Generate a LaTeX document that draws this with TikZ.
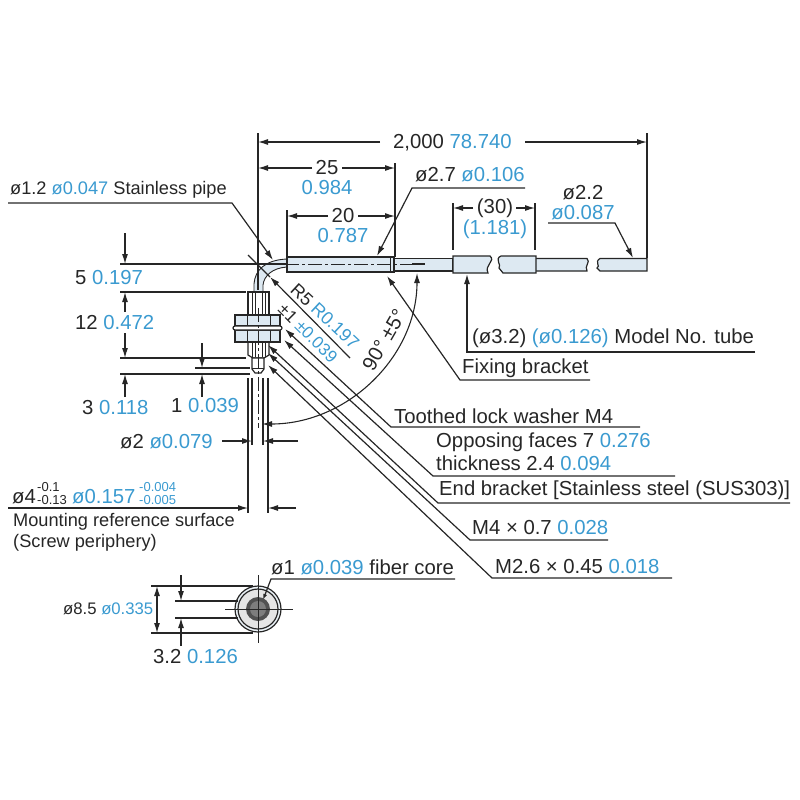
\documentclass[tikz,border=0pt]{standalone}
\usepackage{fontspec}
\setmainfont{Liberation Sans}
\usetikzlibrary{arrows.meta}
\definecolor{inchblue}{HTML}{3A9AD0}
\definecolor{inkgrey}{HTML}{262626}
\definecolor{partfill}{HTML}{DDE9F2}
\newcommand{\inch}[1]{\textcolor{inchblue}{#1}}
\tikzset{
  label/.style={inner sep=0pt,anchor=west,text=inkgrey,font=\fontsize{20.3}{22}\selectfont},
  labelc/.style={label,anchor=center},
  labelnote/.style={label,font=\fontsize{18.2}{20}\selectfont},
  small/.style={label,font=\fontsize{13}{14}\selectfont},
  part/.style={draw=inkgrey,line width=1.2pt,fill=partfill},
  thin/.style={draw=inkgrey,line width=0.9pt},
  dim/.style={draw=inkgrey,line width=1.1pt},
  dimarrow/.style={dim,-{Latex[length=10pt,width=6pt]}},
  leader/.style={draw=inkgrey,line width=1.2pt,-{Latex[length=10pt,width=6pt]}},
  axisline/.style={draw=inkgrey,line width=0.9pt,dash pattern=on 14pt off 3pt on 3pt off 3pt}
}
\begin{document}
\begin{tikzpicture}[x=1pt,y=-1pt]
  \useasboundingbox (0,0) rectangle (800,800);

  % cable and tubes
  \draw[part] (394,258.5) -- (453,258.5) -- (453,271) -- (394,271);
  \draw[part] (536,258.5) -- (587,258.5) .. controls (591,262) and (584,266) .. (587,271) -- (536,271);
  \draw[part] (647,258.5) -- (600,258.5) .. controls (594,262) and (601,266) .. (597,268) -- (600,271) -- (647,271) -- cycle;
  \draw[part] (453,256) -- (490,256) .. controls (496,261) and (484,265) .. (488,273) -- (453,273) -- cycle;
  \draw[part] (536,256) -- (501,256) .. controls (494,259) and (502,265) .. (499,268) -- (503,273) -- (536,273) -- cycle;

  % pipe and ferrule
  \fill[partfill] (254,292) -- (254,284) .. controls (255,270) and (265,260) .. (287,259) -- (287,267) .. controls (272,268) and (264,276) .. (263,285) -- (263,292) -- cycle;
  \draw[thin] (254,292) -- (254,284) .. controls (255,270) and (265,260) .. (287,259);
  \draw[thin] (263,292) -- (263,285) .. controls (264,276) and (272,268) .. (287,267);
  \draw[part] (287,257) rectangle (394,272);
  \draw[thin] (390,257) -- (390,272);

  % threaded body
  \draw[part,fill=white] (248,292) rectangle (269,315);
  \draw[part,fill=white] (248,342) -- (269,342) -- (269,355) -- (264,358) -- (253,358) -- (248,355) -- cycle;
  \foreach \x in {252,255,262,265} {
    \draw[thin] (\x,292) -- (\x,315);
    \draw[thin] (\x,342) -- (\x,357);
  }
  \draw[part] (235,315) rectangle (280,326);
  \draw[part] (235,330) rectangle (280,342);
  \draw[part,rounded corners=2pt,fill=white] (233,326) rectangle (282,330);
  \foreach \x in {247,270} {
    \draw[thin] (\x,315) -- (\x,326);
    \draw[thin] (\x,330) -- (\x,342);
  }
  \draw[part,fill=white] (252,358) -- (264,358) -- (264,369) -- (261,373) -- (255,373) -- (252,369) -- cycle;
  \draw[thin] (252,368) -- (264,368);

  % axes
  \draw[axisline] (285,264) -- (425,264);
  \draw[dim] (412,264) -- (425,264);
  \draw[axisline] (258,308) -- (258,428);

  % extension lines
  \draw[dim] (258,133) -- (258,290);
  \draw[dim] (647,133) -- (647,258);
  \draw[dim] (395,163) -- (395,257);
  \draw[dim] (287,210) -- (287,257);
  \draw[dim] (453,203) -- (453,250);
  \draw[dim] (535,203) -- (535,250);
  \draw[dim] (120,264) -- (287,264);
  \draw[dim] (120,292) -- (246,292);
  \draw[dim] (120,358) -- (246,358);
  \draw[dim] (120,374) -- (250,374);
  \draw[dim] (195,368) -- (250,368);
  \draw[dim] (248,378) -- (248,513);
  \draw[dim] (268,378) -- (268,513);
  \draw[dim] (252,378) -- (252,445);
  \draw[dim] (263,378) -- (263,445);

  % dimensions along the cable
  \node[label] (total) at (393,143) {2,000 \inch{78.740}};
  \draw[dimarrow] (380,142) -- (258,142);
  \draw[dimarrow] (525,142) -- (647,142);
  \node[labelc] (len25) at (327,168) {25};
  \node[labelc] (len25in) at (327,188) {\inch{0.984}};
  \draw[dimarrow] (312,168) -- (258,168);
  \draw[dimarrow] (342,168) -- (395,168);
  \node[labelc] (len20) at (343,216) {20};
  \node[labelc] (len20in) at (343,236) {\inch{0.787}};
  \draw[dimarrow] (328,216) -- (287,216);
  \draw[dimarrow] (358,216) -- (395,216);
  \node[labelc] (len30) at (495,208) {(30)};
  \node[labelc] (len30in) at (495,229) {\inch{(1.181)}};
  \draw[dimarrow] (473,208) -- (453,208);
  \draw[dimarrow] (516,208) -- (535,208);

  % diameter labels on top
  \node[label] (dia27) at (415,175) {ø2.7 \inch{ø0.106}};
  \coordinate (dia27a) at (525,188);
  \coordinate (dia27b) at (412,188);
  \coordinate (dia27tip) at (377,256);
  \draw[leader] (dia27a) -- (dia27b) -- (dia27tip);
  \node[labelc] (dia22) at (583,193) {ø2.2};
  \node[labelc] (dia22in) at (583,213) {\inch{ø0.087}};
  \coordinate (dia22a) at (548,223);
  \coordinate (dia22b) at (615,223);
  \coordinate (dia22tip) at (633,258);
  \draw[leader] (dia22a) -- (dia22b) -- (dia22tip);
  \node[labelnote] (pipe) at (10,190) {ø1.2 \inch{ø0.047} Stainless pipe};
  \coordinate (pipea) at (8,203);
  \coordinate (pipeb) at (232,203);
  \coordinate (pipetip) at (273,260);
  \draw[leader] (pipea) -- (pipeb) -- (pipetip);

  % bend radius and angle
  \node[labelc,rotate=-43,font=\fontsize{18}{20}\selectfont] (radius) at (325,316) {R5 \inch{R0.197}};
  \node[labelc,rotate=-45,font=\fontsize{17}{18}\selectfont] (radtol) at (308,333) {±1 \inch{±0.039}};
  \coordinate (radend) at (350,358);
  \coordinate (radtip) at (270,277);
  \draw[dim] (248,255) -- (radtip);
  \draw[leader] (radend) -- (radtip);
  \node[labelc,rotate=60] (angle) at (384,340) {90° ±5°};
  \draw[dim,{Latex[length=10pt,width=6pt]}-{Latex[length=10pt,width=6pt]}] (417,273) arc[start angle=0,end angle=90,x radius=155,y radius=151];

  % labels on the right
  \node[label] (tube) at (472,338) {(ø3.2) \inch{(ø0.126)} Model No. tube};
  \coordinate (tubea) at (755,352);
  \coordinate (tubeb) at (467,352);
  \coordinate (tubetip) at (467,274);
  \draw[leader] (tubea) -- (tubeb) -- (tubetip);
  \node[label] (fixing) at (462,368) {Fixing bracket};
  \coordinate (fixinga) at (590,380);
  \coordinate (fixingb) at (460,380);
  \coordinate (fixingtip) at (387,276);
  \draw[leader] (fixinga) -- (fixingb) -- (fixingtip);
  \node[label] (washer) at (394,416) {Toothed lock washer M4};
  \coordinate (washera) at (640,427);
  \coordinate (washerb) at (391,427);
  \coordinate (washertip) at (285,329);
  \draw[leader] (washera) -- (washerb) -- (washertip);
  \node[label] (faces) at (436,442) {Opposing faces 7 \inch{0.276}};
  \node[label] (thick) at (436,463) {thickness 2.4 \inch{0.094}};
  \coordinate (facesa) at (675,476);
  \coordinate (facesb) at (433,476);
  \coordinate (facestip) at (284,340);
  \draw[leader] (facesa) -- (facesb) -- (facestip);
  \node[label] (endbr) at (439,490) {End bracket [Stainless steel (SUS303)]};
  \coordinate (endbra) at (790,503);
  \coordinate (endbrb) at (438,503);
  \coordinate (endbrtip) at (268,345);
  \draw[leader] (endbra) -- (endbrb) -- (endbrtip);
  \node[label] (mfour) at (472,528) {M4 × 0.7 \inch{0.028}};
  \coordinate (mfoura) at (608,540);
  \coordinate (mfourb) at (470,540);
  \coordinate (mfourtip) at (268,353);
  \draw[leader] (mfoura) -- (mfourb) -- (mfourtip);
  \node[label] (mtwo) at (495,567) {M2.6 × 0.45 \inch{0.018}};
  \coordinate (mtwoa) at (672,578);
  \coordinate (mtwob) at (492,578);
  \coordinate (mtwotip) at (268,365);
  \draw[leader] (mtwoa) -- (mtwob) -- (mtwotip);

  % dimensions on the left
  \node[label] (five) at (75,278) {5 \inch{0.197}};
  \draw[dimarrow] (125,233) -- (125,264);
  \draw[dimarrow] (125,312) -- (125,292);
  \node[label] (twelve) at (75,323) {12 \inch{0.472}};
  \draw[dimarrow] (125,333) -- (125,358);
  \draw[dimarrow] (125,397) -- (125,374);
  \node[label] (three) at (82,408) {3 \inch{0.118}};
  \draw[dimarrow] (202,343) -- (202,368);
  \draw[dimarrow] (202,397) -- (202,374);
  \node[label] (one) at (171,406) {1 \inch{0.039}};
  \node[label] (dia2) at (120,442) {ø2 \inch{ø0.079}};
  \draw[dimarrow] (222,441) -- (252,441);
  \draw[dimarrow] (298,441) -- (263,441);
  \node[label] (dia4) at (12,497) {ø4};
  \node[small] (dia4hi) at (37,487) {-0.1};
  \node[small] (dia4lo) at (37,500) {-0.13};
  \node[label] (dia4in) at (72,497) {\inch{ø0.157}};
  \node[small,text=inchblue] (dia4inhi) at (139,487) {-0.004};
  \node[small,text=inchblue] (dia4inlo) at (139,500) {-0.005};
  \draw[dimarrow] (8,508) -- (248,508);
  \draw[dimarrow] (296,508) -- (268,508);
  \node[labelnote] (surface) at (13,522) {Mounting reference surface};
  \node[labelnote] (periph) at (13,543) {(Screw periphery)};

  % end view
  \coordinate (endview) at (258,609);
  \draw[part,fill=partfill!60] (endview) circle (23);
  \draw[part,fill=inkgrey!12] (endview) circle (20);
  \fill[inkgrey!80] (endview) circle (12);
  \fill[inkgrey!60] (endview) circle (8);
  \draw[thin] (225,609) -- (293,609);
  \draw[thin] (258,575) -- (258,643);
  \draw[dim] (151,586) -- (253,586);
  \draw[dim] (151,633) -- (253,633);
  \draw[dim] (175,601) -- (238,601);
  \draw[dim] (175,618) -- (238,618);
  \draw[dim,{Latex[length=10pt,width=6pt]}-{Latex[length=10pt,width=6pt]}] (157,586) -- (157,633);
  \draw[dimarrow] (181,575) -- (181,601);
  \draw[dimarrow] (181,646) -- (181,618);
  \node[label,font=\fontsize{16.7}{18}\selectfont] (dia85) at (63,609) {ø8.5 \inch{ø0.335}};
  \node[label] (dia32) at (153,657) {3.2 \inch{0.126}};
  \node[label] (core) at (271,567) {ø1 \inch{ø0.039} fiber core};
  \coordinate (corea) at (455,579);
  \coordinate (coreb) at (271,579);
  \coordinate (coretip) at (263,600);
  \draw[leader,-{Latex[length=6pt,width=4pt]}] (corea) -- (coreb) -- (coretip);
\end{tikzpicture}
\end{document}
